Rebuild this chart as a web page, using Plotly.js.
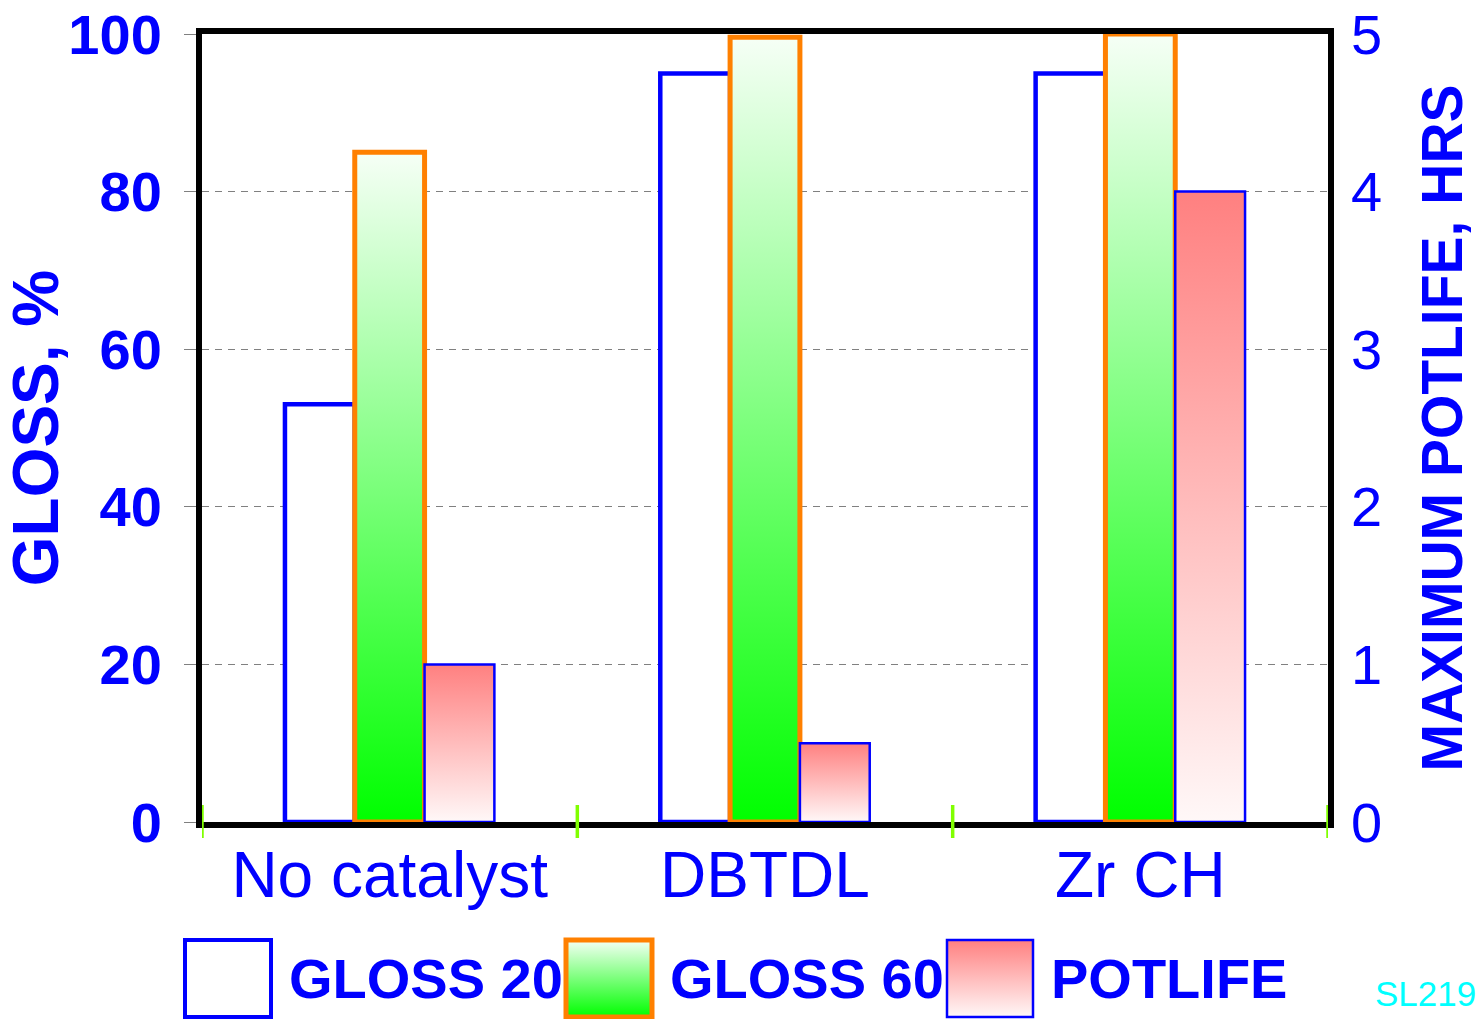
<!DOCTYPE html>
<html>
<head>
<meta charset="utf-8">
<script src="https://cdn.plot.ly/plotly-3.0.1.min.js"></script>
<style>html,body{margin:0;padding:0;background:#fff;}#chart{width:1477px;height:1019px;}</style>
</head>
<body>
<div id="chart"></div>
<script>
// ---- data ----
const categories = ['No catalyst', 'DBTDL', 'Zr CH'];
const gloss20 = [53, 95, 95];
const gloss60 = [85, 99.6, 100];
const potlife = [1.0, 0.5, 4.0];
const seriesNames = ['GLOSS 20', 'GLOSS 60', 'POTLIFE'];
const leftTicks = [0, 20, 40, 60, 80, 100];
const rightTicks = [0, 1, 2, 3, 4, 5];
const leftTitle = 'GLOSS, %';
const rightTitle = 'MAXIMUM POTLIFE, HRS';
const codeLabel = 'SL2194';

// ---- style ----
const BLUE = '#0000ff', ORANGE = '#ff8000';
const FONT = 'Arial, "Liberation Sans", sans-serif';
const W = 1477, H = 1019;
const M = {l: 202, r: 149, t: 34, b: 197};
const PW = W - M.l - M.r, PH = H - M.t - M.b;
const px2x = px => (px - M.l) / PW;
const px2y = py => (H - M.b - py) / PH;

const barW = 0.186;
const data = [
  {type: 'bar', name: seriesNames[0], x: categories, y: gloss20, yaxis: 'y',
   width: barW, offset: -1.5 * barW,
   marker: {color: '#ffffff', line: {color: BLUE, width: 4.5}}},
  {type: 'bar', name: seriesNames[1], x: categories, y: gloss60, yaxis: 'y',
   width: barW, offset: -0.5 * barW,
   marker: {color: '#80ff80', line: {color: ORANGE, width: 5}}},
  {type: 'bar', name: seriesNames[2], x: categories, y: potlife, yaxis: 'y2',
   width: barW, offset: 0.5 * barW,
   marker: {color: '#ffc0c0', line: {color: BLUE, width: 2.5}}}
];

// legend built from series names
const legendStyles = [
  {line: BLUE, lw: 4, fill: '#ffffff'},
  {line: ORANGE, lw: 5, fill: '#80ff80'},
  {line: BLUE, lw: 2.5, fill: '#ffc0c0'}
];
const shapes = [];
const annotations = [];
const legendX0 = 185, legendStep = 381, boxW = 86, boxTop = 940, boxBot = 1017;
seriesNames.forEach((nm, i) => {
  const bx = legendX0 + i * legendStep;
  shapes.push({type: 'rect', xref: 'paper', yref: 'paper', layer: 'above',
    x0: px2x(bx), x1: px2x(bx + boxW), y0: px2y(boxBot), y1: px2y(boxTop),
    fillcolor: legendStyles[i].fill, line: {color: legendStyles[i].line, width: legendStyles[i].lw}});
  annotations.push({xref: 'paper', yref: 'paper', x: px2x(bx + 102), y: px2y(978),
    xanchor: 'left', yanchor: 'middle', showarrow: false, text: nm,
    font: {family: FONT, size: 56, color: BLUE, weight: 'bold'}});
});
const nLegendShapes = shapes.length;
// category boundary marks
for (let i = 0; i <= categories.length; i++) {
  shapes.push({type: 'line', xref: 'x', yref: 'paper', layer: 'above',
    x0: i - 0.5, x1: i - 0.5, y0: px2y(838), y1: px2y(805),
    line: {color: '#80ff00', width: 3.5}});
}
annotations.push({xref: 'paper', yref: 'paper', x: px2x(1373), y: px2y(993),
  xanchor: 'left', yanchor: 'middle', showarrow: false, text: codeLabel,
  font: {family: FONT, size: 35, color: '#00ffff'}});

const layout = {
  width: W, height: H, margin: M,
  paper_bgcolor: '#ffffff', plot_bgcolor: '#ffffff',
  showlegend: false, barmode: 'overlay',
  font: {family: FONT, color: BLUE},
  xaxis: {type: 'category', range: [-0.5, categories.length - 0.5],
    showline: true, mirror: true, linecolor: '#000000', linewidth: 6,
    ticks: '', showgrid: false, zeroline: false,
    tickfont: {family: FONT, size: 64, color: BLUE}, ticklabelstandoff: -8},
  yaxis: {range: [0, 100], tickvals: leftTicks, ticktext: leftTicks.map(String),
    showline: true, mirror: true, linecolor: '#000000', linewidth: 6,
    ticks: 'outside', ticklen: 12, tickcolor: '#808080', tickwidth: 1,
    showgrid: true, gridcolor: '#808080', gridwidth: 1, griddash: '7px,6px',
    zeroline: false,
    tickfont: {family: FONT, size: 56, color: BLUE, weight: 'bold'}, ticklabelstandoff: 11,
    title: {text: leftTitle, font: {family: FONT, size: 64, color: BLUE, weight: 'bold'}, standoff: 12}},
  yaxis2: {range: [0, 5], tickvals: rightTicks, ticktext: rightTicks.map(String),
    overlaying: 'y', side: 'right', showline: false, showgrid: false, zeroline: false,
    ticks: '', tickfont: {family: FONT, size: 56, color: BLUE}, ticklabelstandoff: 22,
    title: {text: rightTitle, font: {family: FONT, size: 57, color: BLUE, weight: 'bold'}, standoff: 40}},
  shapes: shapes,
  annotations: annotations
};

const gd = document.getElementById('chart');
Plotly.newPlot(gd, data, layout, {staticPlot: true, displayModeBar: false}).then(function () {
  const NS = 'http://www.w3.org/2000/svg';
  const svgs = gd.querySelectorAll('svg.main-svg');
  const svg = svgs[0];
  let defs = svg.querySelector('defs');
  if (!defs) { defs = document.createElementNS(NS, 'defs'); svg.insertBefore(defs, svg.firstChild); }
  function addGrad(id, top, bottom) {
    const g = document.createElementNS(NS, 'linearGradient');
    g.setAttribute('id', id);
    g.setAttribute('x1', '0'); g.setAttribute('y1', '0');
    g.setAttribute('x2', '0'); g.setAttribute('y2', '1');
    [[0, top], [1, bottom]].forEach(([o, c]) => {
      const s = document.createElementNS(NS, 'stop');
      s.setAttribute('offset', o); s.setAttribute('stop-color', c);
      g.appendChild(s);
    });
    defs.appendChild(g);
  }
  addGrad('gradGreen', '#f6fff6', '#00ff00');
  addGrad('gradPink', '#ff8080', '#fff8f8');
  const fills = [null, 'url(#gradGreen)', 'url(#gradPink)'];
  const traces = gd.querySelectorAll('.barlayer .trace');
  traces.forEach((t, i) => {
    if (fills[i]) t.querySelectorAll('path').forEach(p => { p.style.fill = fills[i]; });
  });
  for (let i = 0; i < nLegendShapes; i++) {
    if (!fills[i]) continue;
    gd.querySelectorAll('.shapelayer path[data-index="' + i + '"]').forEach(p => { p.style.fill = fills[i]; p.style.fillOpacity = 1; });
  }
});
</script>
</body>
</html>
